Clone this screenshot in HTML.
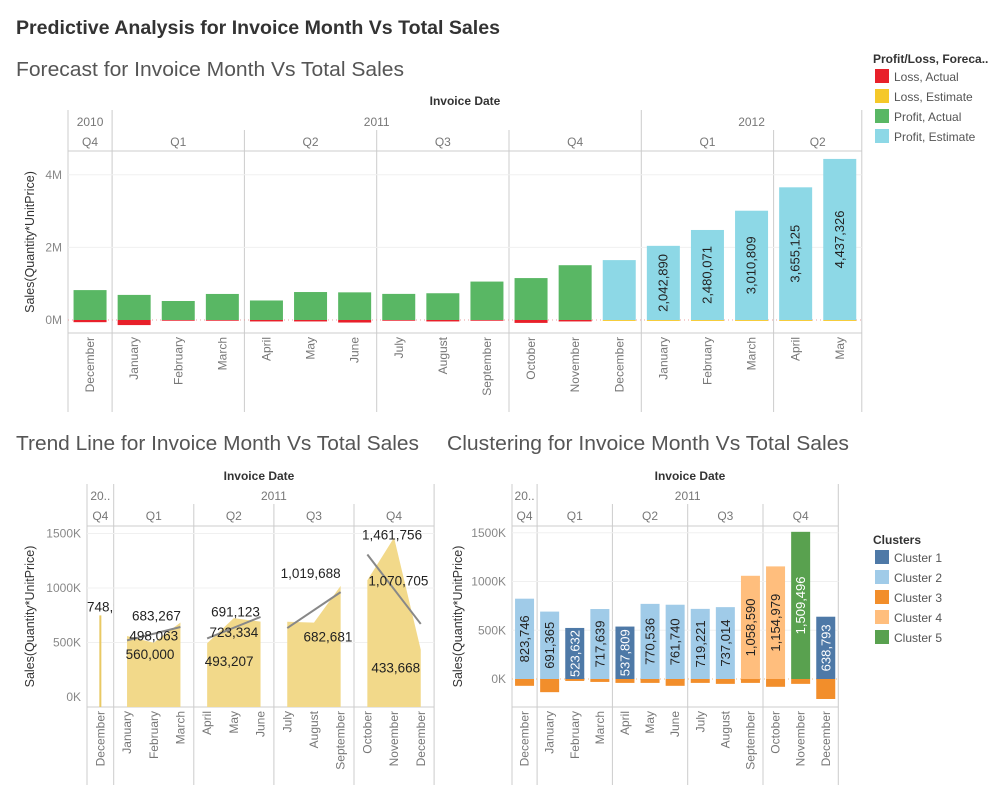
<!DOCTYPE html>
<html><head><meta charset="utf-8">
<style>
html,body{margin:0;padding:0;background:#fff;}
svg{display:block;font-family:"Liberation Sans",sans-serif;}
</style></head>
<body>
<svg id="dash" width="1000" height="800" viewBox="0 0 1000 800" xmlns="http://www.w3.org/2000/svg">
<text x="16" y="34" font-size="19" font-weight="bold" fill="#333" textLength="484" lengthAdjust="spacingAndGlyphs">Predictive Analysis for Invoice Month Vs Total Sales</text>
<text x="16" y="76" font-size="20" fill="#555" textLength="388" lengthAdjust="spacingAndGlyphs">Forecast for Invoice Month Vs Total Sales</text>
<text x="16" y="450" font-size="20" fill="#555" textLength="403" lengthAdjust="spacingAndGlyphs">Trend Line for Invoice Month Vs Total Sales</text>
<text x="447" y="450" font-size="20" fill="#555" textLength="402" lengthAdjust="spacingAndGlyphs">Clustering for Invoice Month Vs Total Sales</text>
<g id="forecast"></g>
<g id="trend"></g>
<g id="cluster"></g>
<g id="legend1"></g>
<g id="legend2"></g>
</svg>
<script>
// ---------- data ----------
const fcMonths = ["December","January","February","March","April","May","June","July","August","September","October","November","December","January","February","March","April","May"];
const fcProfit = [823746,691365,523632,717639,537809,770536,761740,719221,737014,1058590,1154979,1509496,1650000,2042890,2480071,3010809,3655125,4437326];
const fcLoss = [-60000,-140000,-20000,-20000,-40000,-40000,-70000,-20000,-40000,-20000,-80000,-40000,-25000,-25000,-25000,-25000,-25000,-25000];
const fcEstimate = [0,0,0,0,0,0,0,0,0,0,0,0,1,1,1,1,1,1];
const fcLabeled = [0,0,0,0,0,0,0,0,0,0,0,0,0,1,1,1,1,1];
const fcTicks = [0,2000000,4000000];
const fcTickLabels = ["0M","2M","4M"];

const tMonths = ["December","January","February","March","April","May","June","July","August","September","October","November","December"];
const tValues = [748900,560000,498063,683267,493207,723334,691123,690000,682681,1019688,1070705,1461756,433668];
const tLabels = ["748,9","560,000","498,063","683,267","493,207","723,334","691,123","","682,681","1,019,688","1,070,705","1,461,756","433,668"];
const tLabelDx = [-13,23,0,-24,22,0,-25,0,14,-30,31,-2,-25];
const tLabelDy = [-4,23,-2,-2,23,19,-5,0,19,-8,5,2,23];
const tTicks = [0,500000,1000000,1500000];
const tTickLabels = ["0K","500K","1000K","1500K"];

const cMonths = tMonths;
const cValues = [823746,691365,523632,717639,537809,770536,761740,719221,737014,1058590,1154979,1509496,638793];
const cNeg = [-70000,-135000,-20000,-30000,-40000,-40000,-70000,-40000,-50000,-40000,-80000,-50000,-205000];
const cCluster = [2,2,1,2,1,2,2,2,2,4,4,5,1];
const cTicks = tTicks;
const cTickLabels = tTickLabels;

const fcLegend = ["Loss, Actual","Loss, Estimate","Profit, Actual","Profit, Estimate"];
const clLegend = ["Cluster 1","Cluster 2","Cluster 3","Cluster 4","Cluster 5"];

const NS="http://www.w3.org/2000/svg";
function mk(parent,tag,attrs,text){const e=document.createElementNS(NS,tag);for(const k in attrs)e.setAttribute(k,attrs[k]);if(text!==undefined)e.textContent=text;parent.appendChild(e);return e;}

function frame(g,o){
  const xEnd=o.x0+o.n*o.w;
  const t=mk(g,'text',{x:o.titleX,y:o.hy0,'font-size':12,'font-weight':'bold',fill:'#333','text-anchor':'middle'},'Invoice Date');
  
  o.years.forEach(y=>{
    const tx=mk(g,'text',{x:o.x0+(y.s+y.e)/2*o.w,y:o.hy1,'font-size':12,fill:'#777','text-anchor':'middle'},y.label);
    
  });
  o.quarters.forEach(q=>{
    const tx=mk(g,'text',{x:o.x0+(q.s+q.e)/2*o.w,y:o.hy2,'font-size':12,fill:'#777','text-anchor':'middle'},q.label);
    
  });
  o.yearB.forEach(b=>mk(g,'line',{x1:o.x0+b*o.w,x2:o.x0+b*o.w,y1:o.yearTop,y2:o.linesBottom,stroke:'#ccc','stroke-width':1}));
  o.quarterB.forEach(b=>mk(g,'line',{x1:o.x0+b*o.w,x2:o.x0+b*o.w,y1:o.qTop,y2:o.linesBottom,stroke:'#ccc','stroke-width':1}));
  mk(g,'line',{x1:o.x0,x2:xEnd,y1:o.plotTop,y2:o.plotTop,stroke:'#ccc'});
  mk(g,'line',{x1:o.x0,x2:xEnd,y1:o.plotBottom,y2:o.plotBottom,stroke:'#ccc'});
  o.ticks.forEach((v,i)=>{
    const y=o.y(v);
    if(v!==0) mk(g,'line',{x1:o.x0,x2:xEnd,y1:y,y2:y,stroke:'#f0f0f0'});
    const tk=mk(g,'text',{x:o.x0-6,y:y+4,'font-size':12,fill:'#888','text-anchor':'end'},o.tickLabels[i]);
    
  });
  const at=mk(g,'text',{transform:`translate(${o.axX},${(o.plotTop+o.plotBottom)/2}) rotate(-90)`,'font-size':12.5,fill:'#333','text-anchor':'middle'},'Sales(Quantity*UnitPrice)');
  
  o.months.forEach((m,i)=>{
    const x=o.x0+(i+0.5)*o.w+4;
    const ml=mk(g,'text',{transform:`translate(${x},${o.plotBottom+4}) rotate(-90)`,'font-size':12,fill:'#777','text-anchor':'end'},m);
    
  });
}

// ---------- forecast ----------
(function(){
  const g=document.getElementById('forecast');
  const o={x0:68,w:44.1,n:fcMonths.length,plotTop:151,plotBottom:333,linesBottom:412,yearTop:110,qTop:130,
    hy0:105,hy1:126,hy2:146,titleX:465,axX:34,months:fcMonths,ticks:fcTicks,tickLabels:fcTickLabels,
    y:v=>320-v/1e6*36.3,
    years:[{s:0,e:1,label:'2010'},{s:1,e:13,label:'2011'},{s:13,e:18,label:'2012'}],
    quarters:[{s:0,e:1,label:'Q4'},{s:1,e:4,label:'Q1'},{s:4,e:7,label:'Q2'},{s:7,e:10,label:'Q3'},{s:10,e:13,label:'Q4'},{s:13,e:16,label:'Q1'},{s:16,e:18,label:'Q2'}],
    yearB:[0,1,13,18],quarterB:[4,7,10,16]};
  frame(g,o);
  const bw=33, y0=o.y(0);
  mk(g,'line',{x1:o.x0,x2:o.x0+o.n*o.w,y1:y0,y2:y0,stroke:'#e8a0a0','stroke-dasharray':'1,3'});
  fcProfit.forEach((v,i)=>{
    const x=o.x0+(i+0.5)*o.w-bw/2, yt=o.y(v);
    const r=mk(g,'rect',{x:x,y:yt,width:bw,height:y0-yt,fill:fcEstimate[i]?'#8dd8e6':'#59b764'});
    
    const yl=o.y(fcLoss[i]);
    const l=mk(g,'rect',{x:x,y:y0,width:bw,height:yl-y0,fill:fcEstimate[i]?'#f5c829':'#e8202a'});
    
    if(fcLabeled[i]){
      const cx=x+bw/2+4, cy=(yt+y0)/2;
      const tx=mk(g,'text',{transform:`translate(${cx},${cy}) rotate(-90)`,'font-size':13,fill:'#222','text-anchor':'middle'},v.toLocaleString('en-US'));
      
    }
  });
})();

// ---------- trend ----------
(function(){
  const g=document.getElementById('trend');
  const o={x0:87,w:26.7,n:tMonths.length,plotTop:526,plotBottom:707,linesBottom:785,yearTop:484,qTop:504,
    hy0:480,hy1:500,hy2:520,titleX:259,axX:34,months:tMonths,ticks:tTicks,tickLabels:tTickLabels,
    y:v=>697-v/1e6*109,
    years:[{s:0,e:1,label:'20..'},{s:1,e:13,label:'2011'}],
    quarters:[{s:0,e:1,label:'Q4'},{s:1,e:4,label:'Q1'},{s:4,e:7,label:'Q2'},{s:7,e:10,label:'Q3'},{s:10,e:13,label:'Q4'}],
    yearB:[0,1,13],quarterB:[4,7,10]};
  frame(g,o);
  const cx=i=>o.x0+(i+0.5)*o.w;
  const sp=mk(g,'line',{x1:cx(0),x2:cx(0),y1:o.y(tValues[0]),y2:o.plotBottom,stroke:'#e9c964','stroke-width':2});
  
  const groups=[[1,2,3],[4,5,6],[7,8,9],[10,11,12]];
  groups.forEach((gr,qi)=>{
    let d=`M${cx(gr[0])},${o.plotBottom}`;
    gr.forEach(i=>{d+=` L${cx(i)},${o.y(tValues[i])}`;});
    d+=` L${cx(gr[gr.length-1])},${o.plotBottom} Z`;
    const a=mk(g,'path',{d:d,fill:'#f2d98a'});
    
  });
  groups.forEach((gr,qi)=>{
    const vs=gr.map(i=>tValues[i]);
    const mean=(vs[0]+vs[1]+vs[2])/3, slope=(vs[2]-vs[0])/2;
    const ln=mk(g,'line',{x1:cx(gr[0]),y1:o.y(mean-slope),x2:cx(gr[2]),y2:o.y(mean+slope),stroke:'#888','stroke-width':2});
    
  });
  const c0=mk(g,'clipPath',{id:'tclip0'});
  mk(c0,'rect',{x:o.x0,y:o.plotTop,width:o.w,height:200});
  tValues.forEach((v,i)=>{
    if(!tLabels[i])return;
    const tx=mk(g,'text',{x:(i===0?o.x0:cx(i)+tLabelDx[i]),y:o.y(v)+tLabelDy[i],'font-size':13.5,fill:'#222','text-anchor':i===0?'start':'middle'},tLabels[i]);
    if(i===0)tx.setAttribute('clip-path','url(#tclip0)');
    
  });
})();

// ---------- cluster ----------
(function(){
  const g=document.getElementById('cluster');
  const colors={1:'#4e79a7',2:'#a0cbe8',3:'#f28e2b',4:'#ffbe7d',5:'#59a14f'};
  const o={x0:512,w:25.1,n:cMonths.length,plotTop:526,plotBottom:707,linesBottom:785,yearTop:484,qTop:504,
    hy0:480,hy1:500,hy2:520,titleX:690,axX:462,months:cMonths,ticks:cTicks,tickLabels:cTickLabels,
    y:v=>679-v/1e6*97.5,
    years:[{s:0,e:1,label:'20..'},{s:1,e:13,label:'2011'}],
    quarters:[{s:0,e:1,label:'Q4'},{s:1,e:4,label:'Q1'},{s:4,e:7,label:'Q2'},{s:7,e:10,label:'Q3'},{s:10,e:13,label:'Q4'}],
    yearB:[0,1,13],quarterB:[4,7,10]};
  frame(g,o);
  const bw=19,y0=o.y(0);
  mk(g,'line',{x1:o.x0,x2:o.x0+o.n*o.w,y1:y0,y2:y0,stroke:'#f2b880','stroke-dasharray':'1,3'});
  cValues.forEach((v,i)=>{
    const x=o.x0+(i+0.5)*o.w-bw/2, yt=o.y(v);
    const r=mk(g,'rect',{x:x,y:yt,width:bw,height:y0-yt,fill:colors[cCluster[i]]});
    
    const yn=o.y(cNeg[i]);
    const n=mk(g,'rect',{x:x,y:y0,width:bw,height:yn-y0,fill:colors[3]});
    
    const light=(cCluster[i]===1||cCluster[i]===5);
    const tx=mk(g,'text',{transform:`translate(${x+bw/2+4.5},${(yt+y0)/2}) rotate(-90)`,'font-size':13,fill:light?'#fff':'#222','text-anchor':'middle'},v.toLocaleString('en-US'));
    
  });
})();

// ---------- legends ----------
(function(){
  const g=document.getElementById('legend1');
  const cols=['#e8202a','#f5c829','#59b764','#8dd8e6'];
  mk(g,'text',{x:873,y:63,'font-size':12,'font-weight':'bold',fill:'#333'},'Profit/Loss, Foreca..');
  fcLegend.forEach((l,i)=>{
    const it=mk(g,'g',{});
    
    mk(it,'rect',{x:875,y:69+i*20,width:14,height:14,fill:cols[i]});
    mk(it,'text',{x:894,y:81+i*20,'font-size':12,fill:'#555'},l);
  });
  const g2=document.getElementById('legend2');
  const c2=['#4e79a7','#a0cbe8','#f28e2b','#ffbe7d','#59a14f'];
  mk(g2,'text',{x:873,y:544,'font-size':12,'font-weight':'bold',fill:'#333'},'Clusters');
  clLegend.forEach((l,i)=>{
    const it=mk(g2,'g',{});
    
    mk(it,'rect',{x:875,y:550+i*20,width:14,height:14,fill:c2[i]});
    mk(it,'text',{x:894,y:562+i*20,'font-size':12,fill:'#555'},l);
  });
})();
</script>
</body></html>
